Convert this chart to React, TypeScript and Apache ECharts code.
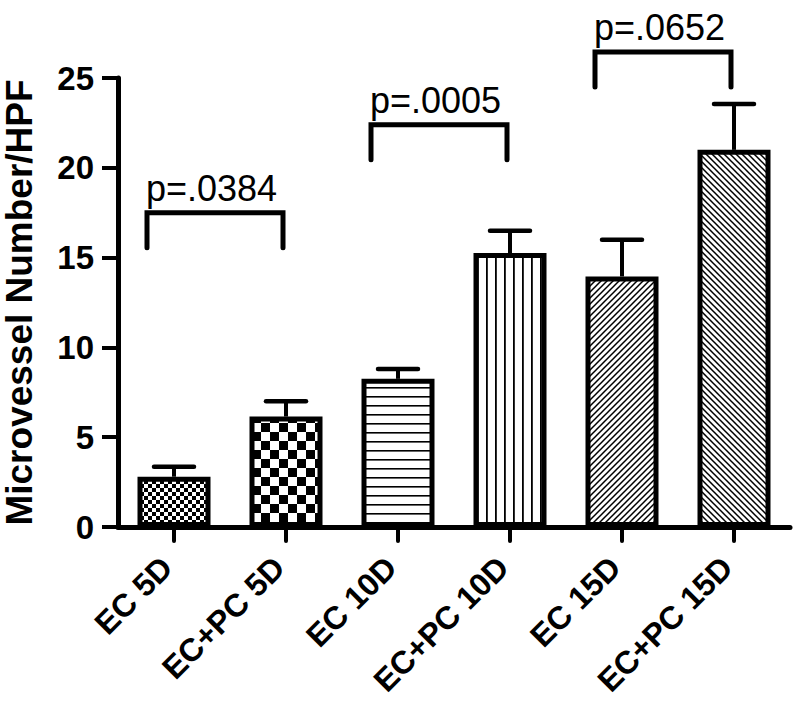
import React, { useEffect, useRef } from "react";
import * as echarts from "echarts";

const categories = ["EC 5D", "EC+PC 5D", "EC 10D", "EC+PC 10D", "EC 15D", "EC+PC 15D"];
const means = [2.8, 6.15, 8.25, 15.25, 13.95, 21.0];
const errors = [0.55, 0.85, 0.55, 1.25, 2.05, 2.55];
const patternKinds = ["fineChecker", "coarseChecker", "hLines", "vLines", "diagUp", "diagDown"];

const bracketStart = [0, 2, 4];
const bracketEnd = [1, 3, 5];
const bracketHeight = [17.5, 22.4, 26.45];
const pLabels = ["p=.0384", "p=.0005", "p=.0652"];

const yTicks = [0, 5, 10, 15, 20, 25];

const FONT = "'Liberation Sans', Arial, Helvetica, sans-serif";

function makePattern(kind: string): HTMLCanvasElement {
  const c = document.createElement("canvas");
  let w = 8, h = 8;
  if (kind === "fineChecker") { w = h = 8; }
  if (kind === "coarseChecker") { w = h = 18; }
  if (kind === "hLines") { w = 10; h = 9; }
  if (kind === "vLines") { w = 9; h = 10; }
  if (kind === "diagUp" || kind === "diagDown") { w = h = 6; }
  c.width = w; c.height = h;
  const ctx = c.getContext("2d")!;
  ctx.fillStyle = "#fff";
  ctx.fillRect(0, 0, w, h);
  ctx.fillStyle = "#000";
  ctx.strokeStyle = "#000";
  if (kind === "fineChecker") {
    ctx.fillRect(0, 0, 4, 4);
    ctx.fillRect(4, 4, 4, 4);
  } else if (kind === "coarseChecker") {
    ctx.fillRect(0, 0, 9, 9);
    ctx.fillRect(9, 9, 9, 9);
  } else if (kind === "hLines") {
    ctx.fillRect(0, 0, w, 1.6);
  } else if (kind === "vLines") {
    ctx.fillRect(0, 0, 1.8, h);
  } else if (kind === "diagUp") {
    const s = w;
    ctx.lineWidth = 1.5;
    ctx.beginPath();
    ctx.moveTo(0, s); ctx.lineTo(s, 0);
    ctx.moveTo(-1, 1); ctx.lineTo(1, -1);
    ctx.moveTo(s - 1, s + 1); ctx.lineTo(s + 1, s - 1);
    ctx.stroke();
  } else if (kind === "diagDown") {
    const s = w;
    ctx.lineWidth = 1.5;
    ctx.beginPath();
    ctx.moveTo(0, 0); ctx.lineTo(s, s);
    ctx.moveTo(-1, s - 1); ctx.lineTo(1, s + 1);
    ctx.moveTo(s - 1, -1); ctx.lineTo(s + 1, 1);
    ctx.stroke();
  }
  return c;
}

export default function App() {
  const ref = useRef<HTMLDivElement>(null);
  useEffect(() => {
    document.body.style.margin = "0";
    const chart = echarts.init(ref.current!, null, { renderer: "svg" });

    const barData = means.map((v, i) => ({
      value: v,
      itemStyle: {
        color: { image: makePattern(patternKinds[i]), repeat: "repeat" } as any,
      },
    }));

    const option: any = {
      animation: false,
      backgroundColor: "#fff",
      grid: { left: 118, right: 10, top: 78, bottom: 177, containLabel: false, outerBoundsMode: "none" },
      xAxis: {
        type: "category",
        data: categories,
        boundaryGap: true,
        axisLine: { show: true, lineStyle: { color: "#000", width: 5 } },
        axisTick: { show: true, alignWithLabel: true, length: 14, lineStyle: { color: "#000", width: 4, cap: "round" } },
        axisLabel: {
          interval: 0,
          rotate: 45,
          margin: 28,
          padding: [0, 10, 0, 0],
          color: "#000",
          fontSize: 32,
          fontWeight: "bold",
          fontFamily: FONT,
        },
      },
      yAxis: {
        type: "value",
        min: 0,
        max: 25,
        interval: 5,
        name: "Microvessel Number/HPF",
        nameLocation: "middle",
        nameGap: 80,
        nameTextStyle: { color: "#000", fontSize: 37, fontWeight: "bold", fontFamily: FONT },
        axisLine: { show: true, lineStyle: { color: "#000", width: 5 } },
        axisTick: { show: true, length: 16, lineStyle: { color: "#000", width: 4 } },
        splitLine: { show: false },
        axisLabel: {
          margin: 24,
          color: "#000",
          fontSize: 33,
          fontWeight: "bold",
          fontFamily: FONT,
          formatter: (v: number) => (yTicks.includes(v) ? String(v) : ""),
        },
      },
      series: [
        {
          type: "bar",
          data: barData,
          barWidth: 73,
          itemStyle: { borderColor: "#000", borderWidth: 5 },
          z: 2,
        },
        {
          type: "custom",
          z: 3,
          clip: false,
          encode: { x: 0, y: 1 },
          data: means.map((m, i) => [i, m, errors[i]]),
          renderItem: (params: any, api: any) => {
            const x = api.value(0);
            const m = api.value(1);
            const e = api.value(2);
            const base = api.coord([x, m]);
            const top = api.coord([x, m + e]);
            const hw = 20;
            return {
              type: "group",
              children: [
                { type: "line", shape: { x1: base[0], y1: base[1], x2: top[0], y2: top[1] }, style: { stroke: "#000", lineWidth: 4 } },
                { type: "line", shape: { x1: top[0] - hw, y1: top[1], x2: top[0] + hw, y2: top[1] }, style: { stroke: "#000", lineWidth: 4.5, lineCap: "round" } },
              ],
            };
          },
        },
        {
          type: "custom",
          z: 4,
          clip: false,
          encode: { x: 0, y: 2 },
          data: bracketStart.map((s, i) => [s, bracketEnd[i], bracketHeight[i], pLabels[i]]),
          renderItem: (params: any, api: any) => {
            const s = api.value(0);
            const e = api.value(1);
            const h = api.value(2);
            const idx = params.dataIndex;
            const p1 = api.coord([s, h]);
            const p2 = api.coord([e, h]);
            const x1 = p1[0] - 27;
            const x2 = p2[0] - 3;
            const y = p1[1];
            const drop = 35;
            return {
              type: "group",
              children: [
                {
                  type: "polyline",
                  shape: { points: [[x1, y + drop], [x1, y], [x2, y], [x2, y + drop]] },
                  style: { stroke: "#000", lineWidth: 5, fill: "none", lineCap: "round", lineJoin: "miter" },
                },
                {
                  type: "text",
                  x: x1 - 1,
                  y: y - 6,
                  style: {
                    text: pLabels[idx],
                    fill: "#000",
                    fontSize: 36,
                    fontFamily: FONT,
                    align: "left",
                    verticalAlign: "bottom",
                  },
                },
              ],
            };
          },
        },
      ],
    };
    chart.setOption(option);
    return () => chart.dispose();
  }, []);
  return <div ref={ref} style={{ position: "absolute", left: 0, top: 0, width: 800, height: 704 }} />;
}
